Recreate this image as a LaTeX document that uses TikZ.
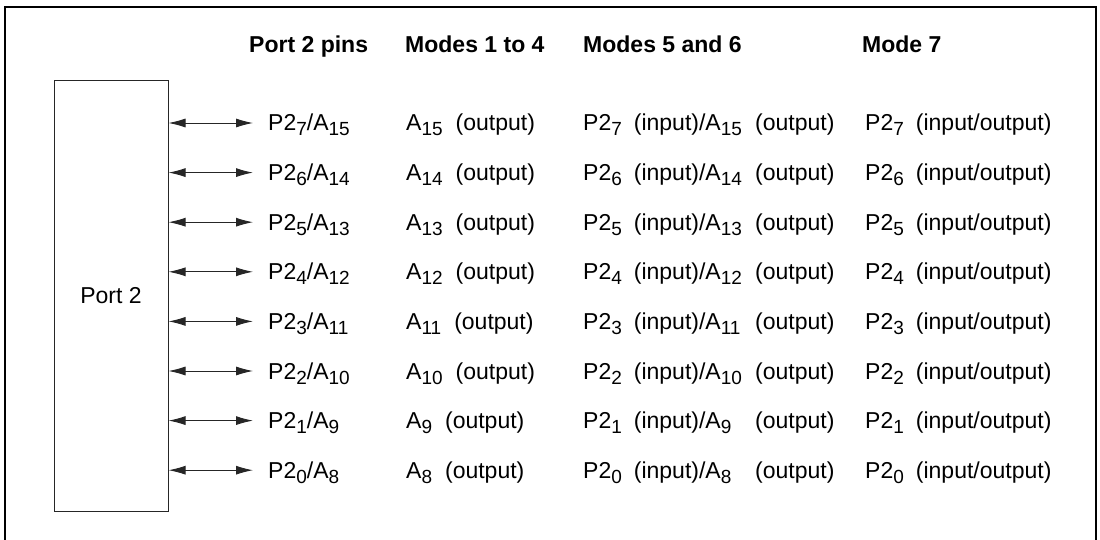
\documentclass[tikz,border=0pt]{standalone}
\usepackage{fontspec}
\setmainfont{Liberation Sans}
\usetikzlibrary{arrows.meta,positioning}
\newcommand{\psub}[1]{\raisebox{-5pt}{\fontsize{19}{19}\selectfont #1}}
\tikzset{
    portLabel/.style={
        inner sep=0pt,
        anchor=base west,
        font=\fontsize{23}{26}\selectfont
    },
    portHead/.style={portLabel, font=\fontsize{23}{26}\selectfont\bfseries},
    portArrow/.style={{Latex[length=17pt,width=9pt]}-{Latex[length=17pt,width=9pt]}, line width=0.9pt, black!85}
}
\begin{document}
\begin{tikzpicture}[x=1pt, y=-1pt,
    portBox/.style={draw=black!85, line width=1pt, minimum width=114pt, minimum height=430pt, inner sep=0pt, font=\fontsize{23}{26}\selectfont}
]
\useasboundingbox (0,0) rectangle (1100,540);
% outer frame, open below
\draw[line width=2pt] (5,541) -- (5,7) -- (1096,7) -- (1096,541);

% port block
\node[portBox] (port) at (111,296) {Port 2};

% column heads
\node[portHead] (hPins) at (249,53) {Port 2 pins};
\node[portHead] (hModeA) at (405,53) {Modes 1 to 4};
\node[portHead] (hModeB) at (583,53) {Modes 5 and 6};
\node[portHead] (hModeC) at (862,53) {Mode 7};

% one row per pin
\foreach \r/\p/\a in {0/7/15, 1/6/14, 2/5/13, 3/4/12, 4/3/11, 5/2/10, 6/1/9, 7/0/8} {
    \coordinate (tip\r) at (253, 123+49.6*\r);
    \draw[portArrow] (port.east |- tip\r) -- (tip\r);
    \node[portLabel] (pin\r) at (268, 131+49.6*\r) {P2\psub{\p}/A\psub{\a}};
    \node[portLabel] (modeA\r) at (406, 131+49.6*\r) {A\psub{\a}\hspace{13pt}(output)};
    \node[portLabel] (modeB\r) at (583, 131+49.6*\r) {P2\psub{\p}\hspace{12pt}(input)/A\psub{\a}};
    \node[portLabel] (modeBo\r) at (755, 131+49.6*\r) {(output)};
    \node[portLabel] (modeC\r) at (865, 131+49.6*\r) {P2\psub{\p}\hspace{12pt}(input/output)};
}
\end{tikzpicture}
\end{document}
